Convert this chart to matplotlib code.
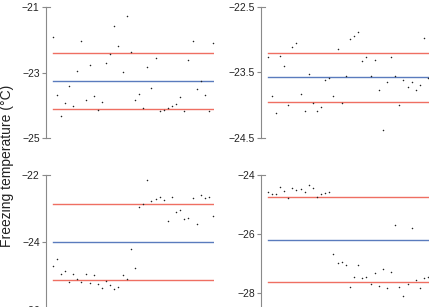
import numpy as np
import matplotlib
matplotlib.use("Agg")
import matplotlib.pyplot as plt

plt.rcParams['font.family'] = ['Liberation Sans', 'DejaVu Sans']

# measurement index (40 samples per panel)
idx = np.arange(1, 41)

# panel A (top left)
temp_a = [-21.91, -23.69, -24.33, -23.94, -23.42, -24.01, -22.96, -22.05, -23.84, -22.76,
          -23.70, -24.13, -23.89, -22.70, -22.45, -21.58, -22.19, -22.98, -21.27, -22.39,
          -23.84, -23.64, -24.08, -22.83, -23.47, -22.56, -24.17, -24.13, -24.08, -24.01,
          -23.97, -23.74, -24.17, -22.62, -22.04, -23.50, -23.26, -23.69, -24.17, -22.09]
# panel B (top right)
temp_b = [-23.26, -23.86, -24.12, -23.25, -23.40, -23.99, -23.11, -23.05, -23.83, -24.09,
          -23.52, -23.96, -24.09, -24.02, -23.61, -23.58, -23.85, -23.15, -23.96, -23.55,
          -22.99, -22.94, -22.88, -23.33, -23.26, -23.55, -23.31, -23.76, -24.38, -23.65,
          -23.27, -23.56, -23.99, -23.62, -23.72, -23.65, -23.76, -23.69, -22.98, -23.58]
# panel C (bottom left)
temp_c = [-24.70, -24.49, -24.94, -24.85, -25.18, -24.95, -25.08, -25.18, -24.95, -25.20,
          -24.98, -25.24, -25.36, -25.14, -25.25, -25.38, -25.32, -24.96, -25.09, -24.19,
          -24.77, -22.94, -22.87, -22.16, -22.77, -22.72, -22.65, -22.74, -23.37, -22.65,
          -23.11, -23.04, -23.31, -23.28, -22.67, -23.46, -22.58, -22.67, -22.66, -23.21]
# panel D (bottom right)
temp_d = [-24.56, -24.66, -24.63, -24.40, -24.54, -24.78, -24.44, -24.51, -24.47, -24.56,
          -24.33, -24.43, -24.73, -24.66, -24.60, -24.56, -26.69, -26.97, -26.95, -27.06,
          -27.79, -27.46, -27.04, -27.48, -27.45, -27.69, -27.31, -27.76, -27.20, -27.82,
          -27.29, -25.71, -27.79, -28.09, -27.71, -25.81, -27.57, -27.83, -27.48, -27.45]

# reference lines: mean, upper, lower
mean_lines = [-23.25, -23.57, -24.00, -26.20]
upper_lines = [-22.40, -23.20, -22.87, -24.76]
lower_lines = [-24.10, -23.95, -25.13, -27.64]

ylims = [(-25, -21), (-24.5, -22.5), (-26, -22), (-28.5, -24)]
yticks = [[-25, -23, -21], [-24.5, -23.5, -22.5], [-26, -24, -22], [-28, -26, -24]]
ytick_labels = [["\u221225", "\u221223", "\u221221"],
                ["\u221224.5", "\u221223.5", "\u221222.5"],
                ["\u221226", "\u221224", "\u221222"],
                ["\u221228", "\u221226", "\u221224"]]

W, H = 429, 307
fig = plt.figure(figsize=(W / 100, H / 100), dpi=100)

# axes boxes in pixels: left, top, width, bottom
boxes = [(46, 6.7, 168, 138.3), (261, 6.7, 168, 138.3),
         (46, 175, 168, 309.8), (261, 175, 168, 307.75)]

red = '#ef6f62'
blue = '#5a7bbd'
spine_col = '#8a8a8a'

for k, temps in enumerate([temp_a, temp_b, temp_c, temp_d]):
    l, t, w, b = boxes[k]
    ax = fig.add_axes([l / W, 1 - b / H, w / W, (b - t) / H])
    ax.set_xlim(-0.6, 40.2)
    ax.set_ylim(*ylims[k])
    ax.plot([idx[0], idx[-1]], [upper_lines[k]] * 2, color=red, lw=1.0)
    ax.plot([idx[0], idx[-1]], [lower_lines[k]] * 2, color=red, lw=1.0)
    ax.plot([idx[0], idx[-1]], [mean_lines[k]] * 2, color=blue, lw=1.0)
    ax.plot(idx, temps, 'o', color='#222222', ms=1.1, mew=0)
    for s in ['top', 'right', 'bottom']:
        ax.spines[s].set_visible(False)
    ax.spines['left'].set_color(spine_col)
    ax.spines['left'].set_linewidth(0.8)
    ax.set_xticks([])
    ax.set_yticks(yticks[k])
    ax.set_yticklabels(ytick_labels[k])
    ax.tick_params(axis='y', direction='out', length=3, width=0.8, color=spine_col,
                   labelsize=7.5, pad=1.5, labelcolor='#222222')
    # small end caps on the axis line
    for yv in ylims[k]:
        ax.plot([-0.6, 0.4], [yv, yv], color=spine_col, lw=0.8, clip_on=False)

fig.text(7 / W, 1 - 166 / H, "Freezing temperature (\u00b0C)", rotation=90,
         ha='center', va='center', fontsize=10, color='#222222')

fig.savefig("out.png", dpi=100)
